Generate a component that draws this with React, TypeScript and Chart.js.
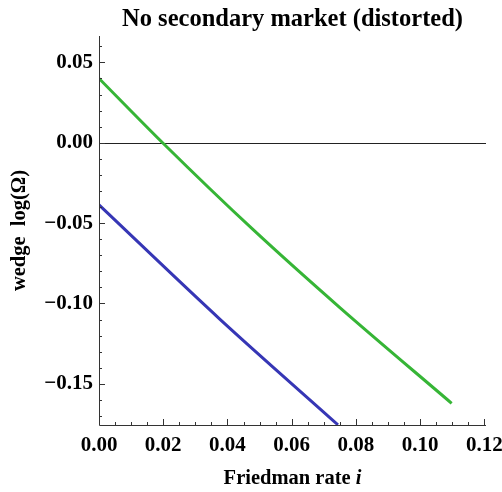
import React, { useEffect, useRef } from "react";
import { Chart, registerables } from "chart.js";

Chart.register(...registerables);

// ---- data ----
const titleText = "No secondary market (distorted)";
const xTitleText = "Friedman rate ";
const xTitleItalic = "i";
const yTitleText = "wedge  log(\u03A9)";

const greenX = [0, 0.0198, 0.048, 0.0749, 0.1098];
const greenY = [0.04, 0, -0.0541, -0.1024, -0.1621];

const blueX = [0, 0.0376, 0.0744];
const blueY = [-0.0387, -0.1097, -0.1755];

const xTicks = [0, 0.02, 0.04, 0.06, 0.08, 0.1, 0.12];
const yTicks = [-0.15, -0.1, -0.05, 0, 0.05];
const xMinorStep = 0.005;
const yMinorStep = 0.01;

const xMin = 0;
const xMax = 0.1205;
const yMin = -0.1756;
const yMax = 0.0664;

const FONT = "'Liberation Serif', 'Times New Roman', serif";

const fmt = (v: number) => {
  const s = Math.abs(v).toFixed(2);
  return v < -1e-9 ? "\u2212" + s : s;
};

const decorPlugin = {
  id: "decor",
  beforeDatasetsDraw(chart: any) {
    const { ctx, chartArea, scales } = chart;
    const ys = scales.y;
    ctx.save();
    const y0 = ys.getPixelForValue(0);
    ctx.strokeStyle = "#222";
    ctx.lineWidth = 1;
    ctx.beginPath();
    ctx.moveTo(chartArea.left, Math.round(y0) + 0.5);
    ctx.lineTo(chartArea.right, Math.round(y0) + 0.5);
    ctx.stroke();
    ctx.restore();
  },
  afterDraw(chart: any) {
    const { ctx, chartArea, scales } = chart;
    const xs = scales.x;
    const ys = scales.y;
    ctx.save();
    ctx.strokeStyle = "#333";
    ctx.lineWidth = 1;
    ctx.beginPath();
    ctx.moveTo(chartArea.left + 0.5, chartArea.top);
    ctx.lineTo(chartArea.left + 0.5, chartArea.bottom + 0.5);
    ctx.lineTo(chartArea.right, chartArea.bottom + 0.5);
    ctx.stroke();
    ctx.beginPath();
    for (let k = 0; k * xMinorStep <= xMax + 1e-9; k++) {
      const v = k * xMinorStep;
      const px = Math.round(xs.getPixelForValue(v)) + 0.5;
      const major = k % 4 === 0;
      ctx.moveTo(px, chartArea.bottom);
      ctx.lineTo(px, chartArea.bottom - (major ? 6 : 3));
    }
    const kStart = Math.ceil(yMin / yMinorStep - 1e-9);
    const kEnd = Math.floor(yMax / yMinorStep + 1e-9);
    for (let k = kStart; k <= kEnd; k++) {
      const v = k * yMinorStep;
      const py = Math.round(ys.getPixelForValue(v)) + 0.5;
      const major = k % 5 === 0;
      ctx.moveTo(chartArea.left, py);
      ctx.lineTo(chartArea.left + (major ? 6 : 3), py);
    }
    ctx.stroke();

    const cx = (chartArea.left + chartArea.right) / 2;
    ctx.fillStyle = "#000";
    ctx.textAlign = "center";
    ctx.textBaseline = "alphabetic";
    ctx.font = `bold 24.5px ${FONT}`;
    ctx.fillText(titleText, cx, 26);

    ctx.font = `bold 20.5px ${FONT}`;
    const w1 = ctx.measureText(xTitleText).width;
    ctx.font = `italic bold 20.5px ${FONT}`;
    const w2 = ctx.measureText(xTitleItalic).width;
    const start = cx - (w1 + w2) / 2;
    ctx.textAlign = "left";
    ctx.font = `bold 20.5px ${FONT}`;
    ctx.fillText(xTitleText, start, 484);
    ctx.font = `italic bold 20.5px ${FONT}`;
    ctx.fillText(xTitleItalic, start + w1, 484);

    const cy = (chartArea.top + chartArea.bottom) / 2;
    ctx.translate(25, cy);
    ctx.rotate(-Math.PI / 2);
    ctx.textAlign = "center";
    ctx.font = `bold 20.5px ${FONT}`;
    ctx.fillText(yTitleText, 0, 0);
    ctx.restore();
  },
};

export default function App() {
  const ref = useRef<HTMLCanvasElement>(null);
  useEffect(() => {
    if (!ref.current) return;
    const chart = new Chart(ref.current, {
      type: "line",
      data: {
        datasets: [
          {
            data: greenX.map((x, i) => ({ x, y: greenY[i] })),
            borderColor: "#36b536",
            borderWidth: 3,
            pointRadius: 0,
            cubicInterpolationMode: "monotone",
          },
          {
            data: blueX.map((x, i) => ({ x, y: blueY[i] })),
            borderColor: "#3636b5",
            borderWidth: 3,
            pointRadius: 0,
            cubicInterpolationMode: "monotone",
          },
        ],
      },
      options: {
        responsive: false,
        animation: false,
        events: [],
        layout: { padding: { left: 0, top: 36, right: 16, bottom: 0 } },
        plugins: {
          legend: { display: false },
          title: { display: false },
          tooltip: { enabled: false },
        },
        scales: {
          x: {
            type: "linear",
            min: xMin,
            max: xMax,
            grid: { display: false, drawTicks: false },
            border: { display: false },
            afterBuildTicks: (scale: any) => {
              scale.ticks = xTicks.map((v) => ({ value: v }));
            },
            afterFit: (scale: any) => {
              scale.height = 67;
              scale.paddingLeft = 0;
              scale.paddingRight = 0;
            },
            ticks: {
              padding: 8,
              color: "#000",
              maxRotation: 0,
              autoSkip: false,
              font: { family: FONT, weight: "bold", size: 21 },
              callback: (v: any) => fmt(Number(v)),
            },
          },
          y: {
            type: "linear",
            min: yMin,
            max: yMax,
            grid: { display: false, drawTicks: false },
            border: { display: false },
            afterBuildTicks: (scale: any) => {
              scale.ticks = yTicks.map((v) => ({ value: v }));
            },
            afterFit: (scale: any) => {
              scale.width = 99;
              scale.paddingTop = 0;
              scale.paddingBottom = 0;
            },
            ticks: {
              padding: 6,
              color: "#000",
              autoSkip: false,
              font: { family: FONT, weight: "bold", size: 21 },
              callback: (v: any) => fmt(Number(v)),
            },
          },
        },
      },
      plugins: [decorPlugin],
    } as any);
    return () => chart.destroy();
  }, []);
  return (
    <div style={{ position: "fixed", left: 0, top: 0, width: 502, height: 492, background: "#fff" }}>
      <canvas ref={ref} width={502} height={492} />
    </div>
  );
}
